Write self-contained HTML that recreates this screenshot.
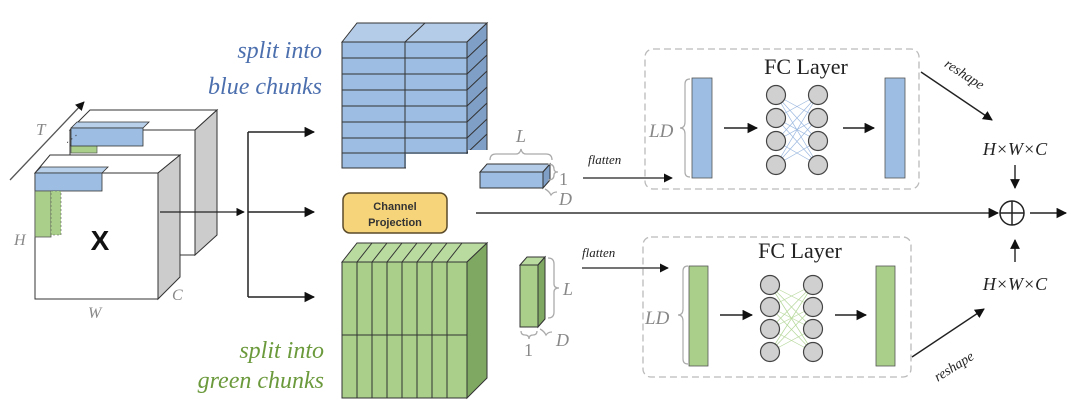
<!DOCTYPE html>
<html><head><meta charset="utf-8"><style>
html,body{margin:0;padding:0;background:#fff;}
svg{display:block;}
.it{font-family:"Liberation Serif",serif;font-style:italic;}
.g{fill:#888;}
</style></head><body>
<svg width="1080" height="417" viewBox="0 0 1080 417" xmlns="http://www.w3.org/2000/svg">
<defs>
<marker id="ar" viewBox="0 0 10 10" refX="9" refY="5" markerWidth="7" markerHeight="7" orient="auto"><path d="M0,0 L10,5 L0,10 z" fill="#111"/></marker>
</defs>
<rect width="1080" height="417" fill="#fff"/>

<!-- titles -->
<text x="322" y="58" text-anchor="end" class="it" font-size="24" fill="#4c6fae">split into</text>
<text x="322" y="94" text-anchor="end" class="it" font-size="24" fill="#4c6fae">blue chunks</text>
<text x="324" y="358" text-anchor="end" class="it" font-size="24" fill="#6b9a3c">split into</text>
<text x="324" y="388" text-anchor="end" class="it" font-size="24" fill="#6b9a3c">green chunks</text>

<!-- back cube -->
<polygon points="70,130 90,110 217,110 195,130" fill="#fff" stroke="#333"/>
<polygon points="195,130 217,110 217,235 195,255" fill="#ccc" stroke="#333"/>
<rect x="70" y="130" width="125" height="125" fill="#fff" stroke="#333"/>
<rect x="71" y="145" width="26" height="8" fill="#a9cf8a" stroke="#555" stroke-width=".7"/>
<polygon points="71,128 77,122 149,122 143,128" fill="#b8d0ea" stroke="#333" stroke-width=".8"/>
<rect x="71" y="128" width="72" height="18" fill="#9dbde3" stroke="#333" stroke-width=".8"/>
<!-- front cube -->
<polygon points="35,173 50,155 180,155 158,173" fill="#fff" stroke="#333"/>
<polygon points="158,173 180,155 180,277 158,299" fill="#ccc" stroke="#333"/>
<rect x="35" y="173" width="123" height="126" fill="#fff" stroke="#333"/>
<polygon points="35,173 41,167 108,167 102,173" fill="#b8d0ea" stroke="#333" stroke-width=".8"/>
<rect x="35" y="173" width="67" height="18" fill="#9dbde3" stroke="#333" stroke-width=".8"/>
<rect x="35" y="191" width="16" height="46" fill="#a9cf8a" stroke="#555" stroke-width=".8"/>
<rect x="51" y="191" width="10" height="44" fill="#a9cf8a" stroke="#555" stroke-width=".6" stroke-dasharray="2,2"/>
<text x="100" y="250" font-family="Liberation Sans,sans-serif" font-size="28" font-weight="bold" text-anchor="middle" fill="#111">X</text>
<line x1="10" y1="180" x2="84" y2="102" stroke="#555" stroke-width="1.3" marker-end="url(#ar)"/>
<text x="66" y="142" class="it" font-size="10" fill="#444">⋰</text>
<text x="36" y="135" class="it g" font-size="17">T</text>
<text x="14" y="245" class="it g" font-size="16">H</text>
<text x="88" y="318" class="it g" font-size="16">W</text>
<text x="172" y="300" class="it g" font-size="16">C</text>

<!-- split arrows -->
<line x1="160" y1="212" x2="244" y2="212" stroke="#222" stroke-width="1.2" marker-end="url(#ar)"/>
<line x1="248" y1="132" x2="248" y2="297" stroke="#222" stroke-width="1.5"/>
<line x1="248" y1="132" x2="314" y2="132" stroke="#222" stroke-width="1.5" marker-end="url(#ar)"/>
<line x1="248" y1="212" x2="314" y2="212" stroke="#222" stroke-width="1.5" marker-end="url(#ar)"/>
<line x1="248" y1="297" x2="314" y2="297" stroke="#222" stroke-width="1.5" marker-end="url(#ar)"/>

<!-- blue stack -->
<polygon points="342,42 357,23 487,23 467,42" fill="#b5cce8" stroke="#333"/>
<line x1="405" y1="42" x2="425" y2="23" stroke="#333"/>
<polygon points="467,42 487,23 487,150 467,168" fill="#7f9fc7" stroke="#333"/>
<rect x="342" y="42" width="125" height="126" fill="#9dbde3" stroke="#333"/>
<g stroke="#333" stroke-width="1">
<line x1="342" y1="58" x2="467" y2="58"/><line x1="342" y1="74" x2="467" y2="74"/>
<line x1="342" y1="90" x2="467" y2="90"/><line x1="342" y1="106" x2="467" y2="106"/>
<line x1="342" y1="122" x2="467" y2="122"/><line x1="342" y1="138" x2="467" y2="138"/>
<line x1="342" y1="153" x2="467" y2="153"/><line x1="405" y1="42" x2="405" y2="168"/>
<line x1="467" y1="58" x2="487" y2="39"/><line x1="467" y1="74" x2="487" y2="55"/>
<line x1="467" y1="90" x2="487" y2="71"/><line x1="467" y1="106" x2="487" y2="87"/>
<line x1="467" y1="122" x2="487" y2="103"/><line x1="467" y1="138" x2="487" y2="119"/>
<line x1="467" y1="153" x2="487" y2="134"/>
</g>
<rect x="406" y="154" width="62" height="15" fill="#fff"/>
<rect x="468" y="150" width="20" height="19" fill="#fff"/>

<!-- channel projection -->
<rect x="343" y="193" width="104" height="40" rx="7" fill="#f6d47a" stroke="#5a4a2a" stroke-width="1.5"/>
<text x="395" y="210" text-anchor="middle" font-family="Liberation Sans,sans-serif" font-size="11" font-weight="bold" fill="#333">Channel</text>
<text x="395" y="226" text-anchor="middle" font-family="Liberation Sans,sans-serif" font-size="11" font-weight="bold" fill="#333">Projection</text>

<!-- green stack -->
<polygon points="342,262 357,243 487,243 467,262" fill="#b9dba0" stroke="#333"/>
<polygon points="467,262 487,243 487,378 467,398" fill="#7fa862" stroke="#333"/>
<rect x="342" y="262" width="125" height="136" fill="#a9cf8a" stroke="#333"/>
<g stroke="#333" stroke-width="1">
<line x1="357" y1="262" x2="357" y2="398"/><line x1="372" y1="262" x2="372" y2="398"/>
<line x1="387" y1="262" x2="387" y2="398"/><line x1="402" y1="262" x2="402" y2="398"/>
<line x1="417" y1="262" x2="417" y2="398"/><line x1="432" y1="262" x2="432" y2="398"/>
<line x1="447" y1="262" x2="447" y2="398"/><line x1="342" y1="335" x2="467" y2="335"/>
<line x1="372" y1="262" x2="387" y2="243"/><line x1="387" y1="262" x2="402" y2="243"/>
<line x1="402" y1="262" x2="417" y2="243"/><line x1="417" y1="262" x2="432" y2="243"/>
<line x1="432" y1="262" x2="447" y2="243"/><line x1="447" y1="262" x2="462" y2="243"/>
<line x1="357" y1="262" x2="372" y2="243"/>
</g>

<!-- small blue bar -->
<polygon points="480,172 487,164 550,164 543,172" fill="#b5cce8" stroke="#333"/>
<polygon points="543,172 550,164 550,180 543,188" fill="#7f9fc7" stroke="#333"/>
<rect x="480" y="172" width="63" height="16" fill="#9dbde3" stroke="#333"/>
<path d="M490,160 q0,-6 6,-6 h20 q4,0 5,-5 q1,5 5,5 h20 q6,0 6,6" fill="none" stroke="#aaa" stroke-width="1.3"/>
<text x="516" y="142" class="it g" font-size="18">L</text>
<path d="M548,164 q6,0 6,5 q0,3 4,3 q-4,0 -4,3 q0,5 -6,5" fill="none" stroke="#aaa" stroke-width="1.3"/>
<text x="559" y="185" font-family="Liberation Serif,serif" font-size="18" fill="#888">1</text>
<path d="M545,189 q4,2 6,6 q2,-3 6,-3" fill="none" stroke="#aaa" stroke-width="1.3"/>
<text x="559" y="205" class="it g" font-size="18">D</text>

<!-- small green bar -->
<polygon points="520,265 527,257 545,257 538,265" fill="#b9dba0" stroke="#333"/>
<polygon points="538,265 545,257 545,319 538,327" fill="#7fa862" stroke="#333"/>
<rect x="520" y="265" width="18" height="62" fill="#a9cf8a" stroke="#333"/>
<path d="M548,258 q6,0 6,6 v20 q0,4 5,4 q-5,0 -5,4 v20 q0,6 -6,6" fill="none" stroke="#aaa" stroke-width="1.3"/>
<text x="563" y="295" class="it g" font-size="18">L</text>
<path d="M521,331 q0,4 4,4 q4,0 4,4 q0,-4 4,-4 q4,0 4,-4" fill="none" stroke="#aaa" stroke-width="1.3"/>
<text x="524" y="356" font-family="Liberation Serif,serif" font-size="18" fill="#888">1</text>
<path d="M540,329 q4,2 6,6 q2,-3 6,-3" fill="none" stroke="#aaa" stroke-width="1.3"/>
<text x="556" y="346" class="it g" font-size="18">D</text>

<!-- flatten -->
<text x="588" y="164" class="it" font-size="13" fill="#222">flatten</text>
<line x1="583" y1="178" x2="672" y2="178" stroke="#222" stroke-width="1.3" marker-end="url(#ar)"/>
<text x="582" y="257" class="it" font-size="13" fill="#222">flatten</text>
<line x1="582" y1="268" x2="668" y2="268" stroke="#222" stroke-width="1.3" marker-end="url(#ar)"/>

<!-- main line -->
<line x1="476" y1="213" x2="998" y2="213" stroke="#333" stroke-width="1.5" marker-end="url(#ar)"/>
<circle cx="1012" cy="213" r="12" fill="#fff" stroke="#222" stroke-width="1.5"/>
<line x1="1000" y1="213" x2="1024" y2="213" stroke="#222" stroke-width="1.5"/>
<line x1="1012" y1="201" x2="1012" y2="225" stroke="#222" stroke-width="1.5"/>
<line x1="1030" y1="213" x2="1066" y2="213" stroke="#222" stroke-width="1.5" marker-end="url(#ar)"/>

<!-- FC top -->
<rect x="645" y="49" width="274" height="140" rx="8" fill="none" stroke="#bbb" stroke-width="1.3" stroke-dasharray="7,4"/>
<text x="806" y="74" text-anchor="middle" font-family="Liberation Serif,serif" font-size="22" fill="#222">FC Layer</text>
<text x="649" y="137" class="it g" font-size="19">LD</text>
<path d="M690,79 q-5,0 -5,5 v38 q0,6 -5,6 q5,0 5,6 v38 q0,5 5,5" fill="none" stroke="#aaa" stroke-width="1.2"/>
<rect x="692" y="78" width="20" height="100" fill="#9dbde3" stroke="#555" stroke-width=".8"/>
<line x1="724" y1="128" x2="757" y2="128" stroke="#222" stroke-width="1.5" marker-end="url(#ar)"/>
<line x1="843" y1="128" x2="874" y2="128" stroke="#222" stroke-width="1.5" marker-end="url(#ar)"/>
<rect x="885" y="78" width="20" height="100" fill="#9dbde3" stroke="#555" stroke-width=".8"/>
<g stroke="#9bb8e0" stroke-width=".7">
<line x1="776" y1="95" x2="818" y2="118"/><line x1="776" y1="95" x2="818" y2="141"/><line x1="776" y1="95" x2="818" y2="165"/>
<line x1="776" y1="118" x2="818" y2="95"/><line x1="776" y1="118" x2="818" y2="141"/><line x1="776" y1="118" x2="818" y2="165"/>
<line x1="776" y1="141" x2="818" y2="95"/><line x1="776" y1="141" x2="818" y2="118"/><line x1="776" y1="141" x2="818" y2="165"/>
<line x1="776" y1="165" x2="818" y2="95"/><line x1="776" y1="165" x2="818" y2="118"/><line x1="776" y1="165" x2="818" y2="141"/>
</g>
<g fill="#d0d0d0" stroke="#444" stroke-width="1.2">
<circle cx="776" cy="95" r="9.5"/><circle cx="776" cy="118" r="9.5"/><circle cx="776" cy="141" r="9.5"/><circle cx="776" cy="165" r="9.5"/>
<circle cx="818" cy="95" r="9.5"/><circle cx="818" cy="118" r="9.5"/><circle cx="818" cy="141" r="9.5"/><circle cx="818" cy="165" r="9.5"/>
</g>
<line x1="921" y1="72" x2="992" y2="120" stroke="#222" stroke-width="1.4" marker-end="url(#ar)"/>
<text x="936" y="78" class="it" font-size="14" fill="#222" transform="rotate(33 960 85)">reshape</text>
<text x="1015" y="155" text-anchor="middle" class="it" font-size="18" fill="#222">H×W×C</text>
<line x1="1015" y1="165" x2="1015" y2="188" stroke="#222" stroke-width="1.4" marker-end="url(#ar)"/>

<!-- FC bottom -->
<rect x="643" y="237" width="268" height="140" rx="8" fill="none" stroke="#bbb" stroke-width="1.3" stroke-dasharray="7,4"/>
<text x="800" y="258" text-anchor="middle" font-family="Liberation Serif,serif" font-size="22" fill="#222">FC Layer</text>
<text x="645" y="324" class="it g" font-size="19">LD</text>
<path d="M688,266 q-5,0 -5,5 v38 q0,6 -5,6 q5,0 5,6 v38 q0,5 5,5" fill="none" stroke="#aaa" stroke-width="1.2"/>
<rect x="689" y="266" width="19" height="100" fill="#a9cf8a" stroke="#555" stroke-width=".8"/>
<line x1="720" y1="315" x2="752" y2="315" stroke="#222" stroke-width="1.5" marker-end="url(#ar)"/>
<line x1="835" y1="315" x2="866" y2="315" stroke="#222" stroke-width="1.5" marker-end="url(#ar)"/>
<rect x="876" y="266" width="19" height="100" fill="#a9cf8a" stroke="#555" stroke-width=".8"/>
<g stroke="#b5d89a" stroke-width=".7">
<line x1="770" y1="285" x2="813" y2="307"/><line x1="770" y1="285" x2="813" y2="329"/><line x1="770" y1="285" x2="813" y2="352"/>
<line x1="770" y1="307" x2="813" y2="285"/><line x1="770" y1="307" x2="813" y2="329"/><line x1="770" y1="307" x2="813" y2="352"/>
<line x1="770" y1="329" x2="813" y2="285"/><line x1="770" y1="329" x2="813" y2="307"/><line x1="770" y1="329" x2="813" y2="352"/>
<line x1="770" y1="352" x2="813" y2="285"/><line x1="770" y1="352" x2="813" y2="307"/><line x1="770" y1="352" x2="813" y2="329"/>
</g>
<g fill="#d0d0d0" stroke="#444" stroke-width="1.2">
<circle cx="770" cy="285" r="9.5"/><circle cx="770" cy="307" r="9.5"/><circle cx="770" cy="329" r="9.5"/><circle cx="770" cy="352" r="9.5"/>
<circle cx="813" cy="285" r="9.5"/><circle cx="813" cy="307" r="9.5"/><circle cx="813" cy="329" r="9.5"/><circle cx="813" cy="352" r="9.5"/>
</g>
<line x1="912" y1="357" x2="984" y2="309" stroke="#222" stroke-width="1.4" marker-end="url(#ar)"/>
<text x="928" y="372" class="it" font-size="14" fill="#222" transform="rotate(-32 950 360)">reshape</text>
<text x="1015" y="290" text-anchor="middle" class="it" font-size="18" fill="#222">H×W×C</text>
<line x1="1015" y1="262" x2="1015" y2="240" stroke="#222" stroke-width="1.4" marker-end="url(#ar)"/>
</svg>
</body></html>
